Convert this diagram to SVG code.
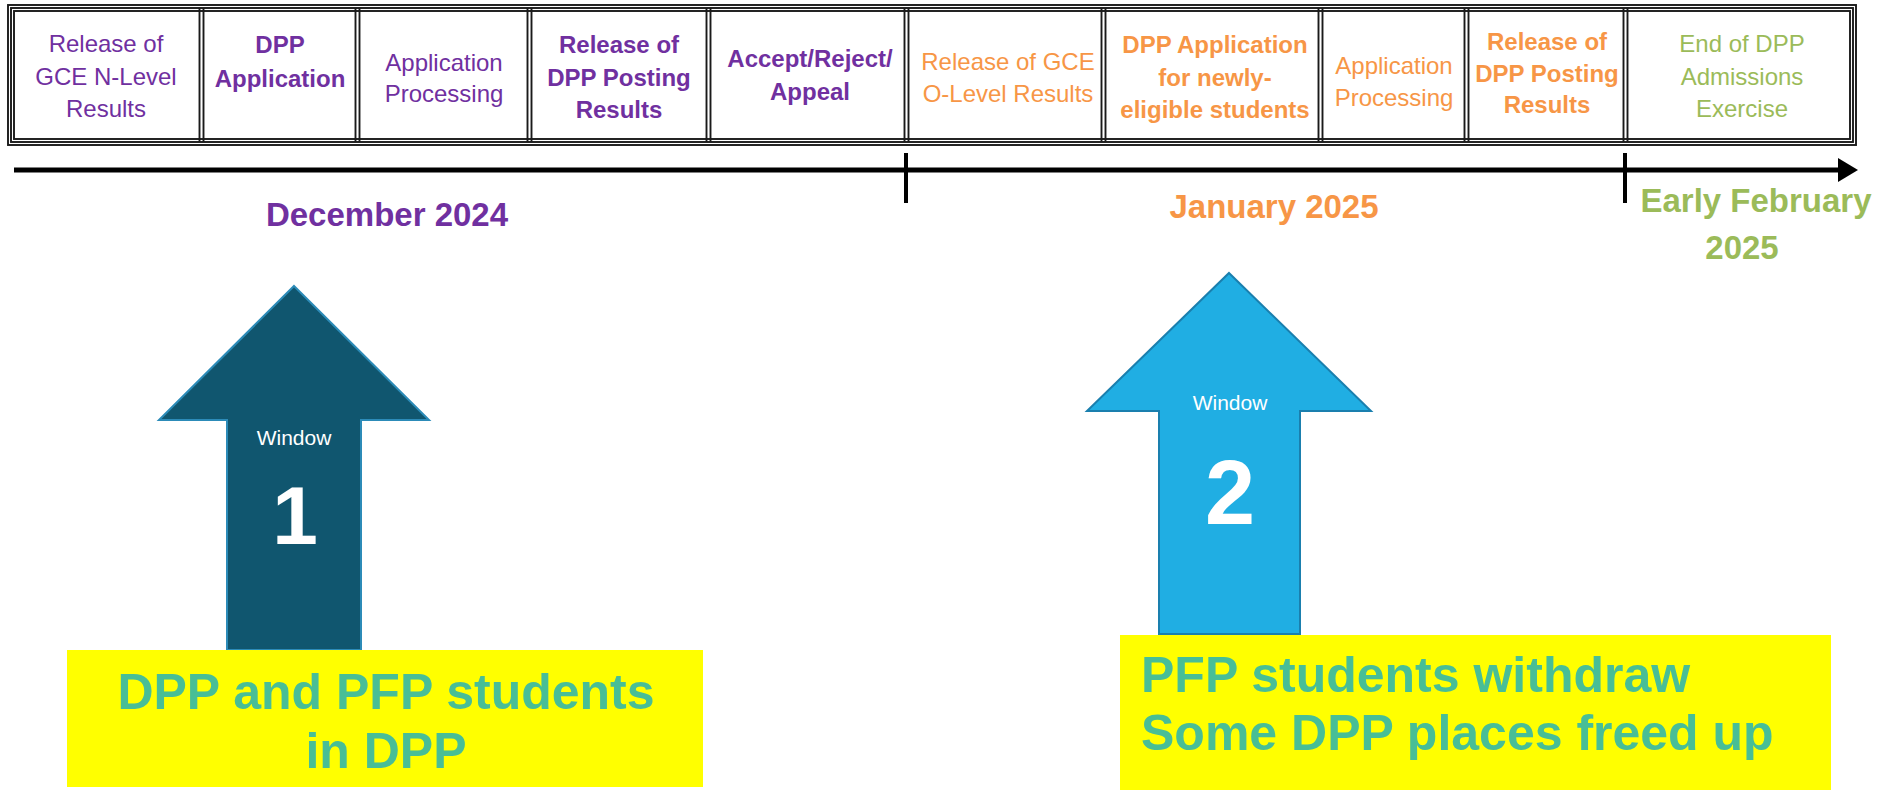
<svg xmlns="http://www.w3.org/2000/svg" width="1877" height="792" viewBox="0 0 1877 792">
<style>
text{font-family:"Liberation Sans",Arial,sans-serif;text-anchor:middle}
.c{font-size:24px}
.b{font-weight:bold}
.pu{fill:#7030A0}
.or{fill:#F79646}
.gr{fill:#9BBB59}
.dt{font-size:33px;font-weight:bold}
.brd{fill:none;stroke:#1a1a1a;stroke-width:1.9}
.div{stroke:#1a1a1a;stroke-width:1.9}
.win{fill:#fff;font-size:21px}
.num{fill:#fff;font-weight:bold}
.note{fill:#48BE96;font-size:50px;font-weight:bold}
.yel{fill:#FFFF00}
</style>
<g id="table">
<rect class="brd" x="8" y="5" width="1848" height="140"/>
<rect class="brd" x="11" y="8" width="1842" height="134"/>
<rect class="brd" x="14" y="11" width="1836" height="128"/>
<g id="dividers">
<line class="div" x1="199.5" y1="8" x2="199.5" y2="142"/><line class="div" x1="203.5" y1="8" x2="203.5" y2="142"/>
<line class="div" x1="355.5" y1="8" x2="355.5" y2="142"/><line class="div" x1="359.5" y1="8" x2="359.5" y2="142"/>
<line class="div" x1="527.5" y1="8" x2="527.5" y2="142"/><line class="div" x1="531.5" y1="8" x2="531.5" y2="142"/>
<line class="div" x1="706.5" y1="8" x2="706.5" y2="142"/><line class="div" x1="710.5" y1="8" x2="710.5" y2="142"/>
<line class="div" x1="904.5" y1="8" x2="904.5" y2="142"/><line class="div" x1="908.5" y1="8" x2="908.5" y2="142"/>
<line class="div" x1="1101.5" y1="8" x2="1101.5" y2="142"/><line class="div" x1="1105.5" y1="8" x2="1105.5" y2="142"/>
<line class="div" x1="1318.5" y1="8" x2="1318.5" y2="142"/><line class="div" x1="1322.5" y1="8" x2="1322.5" y2="142"/>
<line class="div" x1="1464.5" y1="8" x2="1464.5" y2="142"/><line class="div" x1="1468.5" y1="8" x2="1468.5" y2="142"/>
<line class="div" x1="1623.5" y1="8" x2="1623.5" y2="142"/><line class="div" x1="1627.5" y1="8" x2="1627.5" y2="142"/>
</g>
</g>
<g id="cell1"><text class="c pu" x="106" y="52">Release of</text><text class="c pu" x="106" y="85">GCE N-Level</text><text class="c pu" x="106" y="117">Results</text></g>
<g id="cell2"><text class="c b pu" x="280" y="53">DPP</text><text class="c b pu" x="280" y="87">Application</text></g>
<g id="cell3"><text class="c pu" x="444" y="71">Application</text><text class="c pu" x="444" y="102">Processing</text></g>
<g id="cell4"><text class="c b pu" x="619" y="53">Release of</text><text class="c b pu" x="619" y="86">DPP Posting</text><text class="c b pu" x="619" y="118">Results</text></g>
<g id="cell5"><text class="c b pu" x="810" y="67">Accept/Reject/</text><text class="c b pu" x="810" y="100">Appeal</text></g>
<g id="cell6"><text class="c or" x="1008" y="70">Release of GCE</text><text class="c or" x="1008" y="102">O-Level Results</text></g>
<g id="cell7"><text class="c b or" x="1215" y="53">DPP Application</text><text class="c b or" x="1215" y="86">for newly-</text><text class="c b or" x="1215" y="118">eligible students</text></g>
<g id="cell8"><text class="c or" x="1394" y="74">Application</text><text class="c or" x="1394" y="106">Processing</text></g>
<g id="cell9"><text class="c b or" x="1547" y="50">Release of</text><text class="c b or" x="1547" y="82">DPP Posting</text><text class="c b or" x="1547" y="113">Results</text></g>
<g id="cell10"><text class="c gr" x="1742" y="52">End of DPP</text><text class="c gr" x="1742" y="85">Admissions</text><text class="c gr" x="1742" y="117">Exercise</text></g>
<g id="connectors">
<line x1="14" y1="170" x2="1842" y2="170" stroke="#000" stroke-width="5"/>
<polygon points="1838,158 1858,170 1838,182" fill="#000"/>
<line x1="906" y1="153" x2="906" y2="203" stroke="#000" stroke-width="4"/>
<line x1="1625" y1="153" x2="1625" y2="203" stroke="#000" stroke-width="4"/>
</g>
<g id="labels">
<text class="dt pu" x="387" y="226">December 2024</text>
<text class="dt or" x="1274" y="218">January 2025</text>
<text class="dt gr" x="1756" y="212">Early February</text>
<text class="dt gr" x="1742" y="259">2025</text>
</g>
<g id="window1">
<polygon points="294,286 429,420 361,420 361,650 227,650 227,420 159,420" fill="#10566F" stroke="#2C8BB8" stroke-width="2"/>
<text class="win" x="294" y="445">Window</text>
<text class="num" x="295" y="544" font-size="82">1</text>
</g>
<g id="window2">
<polygon points="1229,273 1371,411 1300,411 1300,634 1159,634 1159,411 1087,411" fill="#20AEE3" stroke="#1A7FAE" stroke-width="2"/>
<text class="win" x="1230" y="410">Window</text>
<text class="num" x="1230" y="524" font-size="90">2</text>
</g>
<g id="note1">
<rect class="yel" x="67" y="650" width="636" height="137"/>
<text class="note" x="386" y="709">DPP and PFP students</text>
<text class="note" x="386" y="768">in DPP</text>
</g>
<g id="note2">
<rect class="yel" x="1120" y="635" width="711" height="155"/>
<text class="note" x="1141" y="692" style="text-anchor:start">PFP students withdraw</text>
<text class="note" x="1141" y="750" style="text-anchor:start">Some DPP places freed up</text>
</g>
</svg>
